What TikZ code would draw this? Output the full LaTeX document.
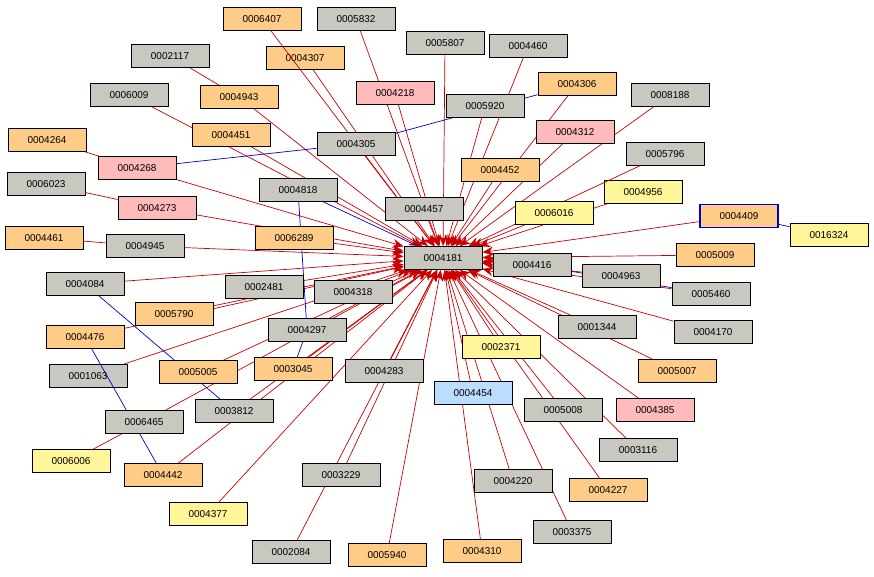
\documentclass[tikz,border=0pt]{standalone}
\usepackage{fontspec}
\setmainfont{Liberation Sans}
\usetikzlibrary{arrows.meta}
\definecolor{cg}{HTML}{C8C8C0}
\definecolor{co}{HTML}{FFCC88}
\definecolor{cp}{HTML}{FFBBBB}
\definecolor{cy}{HTML}{FFF599}
\definecolor{cb}{HTML}{BBDDFF}
\definecolor{er}{HTML}{CC0000}
\definecolor{eb}{HTML}{0000CC}
\begin{document}
\begin{tikzpicture}[x=1pt,y=-1pt,
 nb/.style={draw,line width=0.8pt,minimum width=78pt,minimum height=23pt,inner sep=0pt,font=\fontsize{10}{12}\selectfont},
 g/.style={nb,fill=cg},o/.style={nb,fill=co},p/.style={nb,fill=cp},yl/.style={nb,fill=cy},bl/.style={nb,fill=cb},
 re/.style={er,line width=0.7pt,-{Stealth[length=11pt,width=9pt]}},
 rl/.style={er,line width=0.7pt},
 be/.style={eb,line width=0.7pt}]
\useasboundingbox (0,0) rectangle (874,576);
\foreach \n/\s/\x/\y in {
0006407/o/262/19,0005832/g/356/19,0005807/g/445/43,0004460/g/528/46,0002117/g/170/56,
0004307/o/305/58,0006009/g/129/95,0004943/o/239/97,0004218/p/395/93,0004306/o/577/84,
0008188/g/670/95,0005920/g/485/106,0004312/p/575/132,0004264/o/47/140,0004451/o/231/135,
0004305/g/356/144,0004268/p/137/168,0005796/g/665/154,0004452/o/500/170,0004956/yl/643/192,
0006023/g/46/184,0004818/g/298/190,0004273/p/157/208,0004457/g/424/209,0006016/yl/554/213,
0016324/yl/829/235,0004461/o/44/238,0004945/g/145/246,0006289/o/294/238,
0004963/g/621/276,0005009/o/715/255,0005460/g/711/294,0004084/g/85/284,
0002481/g/264/287,0004318/g/353/292,0005790/o/174/314,0004297/g/307/330,0001344/g/597/327,
0004170/g/713/332,0004476/o/85/337,0002371/yl/501/347,0001063/g/88/376,0005005/o/198/372,
0003045/o/293/369,0004283/g/384/371,0005007/o/677/371,0004454/bl/473/393,0003812/g/234/411,
0005008/g/563/410,0004385/p/655/410,0006465/g/144/422,0003116/g/638/450,0006006/yl/71/461,
0004442/o/163/475,0003229/g/341/475,0004220/g/513/481,0004227/o/608/490,0004377/yl/208/514,
0003375/g/572/532,0002084/g/291/552,0005940/o/387/555,0004310/o/482/551}
 {\node[\s] (n\n) at (\x,\y) {\n};}
\node[o,draw=eb,line width=1.5pt] (n0004409) at (739,216) {0004409};
\node[g] (n0004416) at (532,265) {0004416};
\node[g] (c) at (443,258) {0004181};
\begin{scope}[on background layer/.style={}]
\end{scope}
\foreach \n in {0006407,0005832,0005807,0004460,0004307,0006009,0004943,0004218,0004306,0008188,
0005920,0004312,0004451,0004305,0004268,0005796,0004452,0004956,0004273,0004457,0006016,0004409,
0004945,0006289,0004963,0005009,0005460,0004084,0002481,0004318,0005790,0004297,0001344,0004170,
0004476,0002371,0001063,0005005,0003045,0004283,0005007,0004454,0003812,0005008,0004385,0006465,
0003116,0004442,0003229,0004220,0004227,0004377,0003375,0002084,0005940,0004310,0004416}
 {\draw[re] (n\n) -- (c);}
\draw[rl] (n0002117) -- (n0004943);
\draw[rl] (n0004264) -- (n0004268);
\draw[rl] (n0006023) -- (n0004273);
\draw[rl] (n0004461) -- (n0004945);
\draw[rl] (n0006465) -- (n0006006);
\draw[be] (n0004305) -- (n0004306);
\draw[be] (n0004305) -- (n0004268);
\draw[be] (n0004818) -- (c);
\draw[be] (n0004818) -- (n0004297);
\draw[be] (n0004297) -- (n0003045);
\draw[be] (n0004409) -- (n0016324);
\draw[be] (n0004416) -- (n0005460);
\draw[be] (n0004084) -- (n0003812);
\draw[be] (n0004476) -- (n0004442);
% redraw nodes on top
\foreach \n/\s/\x/\y in {0004457/g/424/209,0006289/o/294/238,0002481/g/264/287,0004318/g/353/292,
0004297/g/307/330,0003045/o/293/369,0002371/yl/501/347,0004963/g/621/276,0004452/o/500/170,
0005920/g/485/106,0004305/g/356/144,0004451/o/231/135,0004818/g/298/190,0004273/p/157/208,
0004945/g/145/246,0005790/o/174/314,0005005/o/198/372,0004283/g/384/371,0004454/bl/473/393,
0005008/g/563/410,0003812/g/234/411,0006465/g/144/422,0004442/o/163/475,0003229/g/341/475,
0004220/g/513/481,0001344/g/597/327,0006016/yl/554/213,0004268/p/137/168,0004943/o/239/97,
0004218/p/395/93,0004306/o/577/84,0004312/p/575/132,0004476/o/85/337,0004084/g/85/284}
 {\node[\s] at (\x,\y) {\n};}
\node[o,draw=eb,line width=1.5pt] at (739,216) {0004409};
\node[g] at (532,265) {0004416};
\node[g] at (443,258) {0004181};
\end{tikzpicture}
\end{document}
